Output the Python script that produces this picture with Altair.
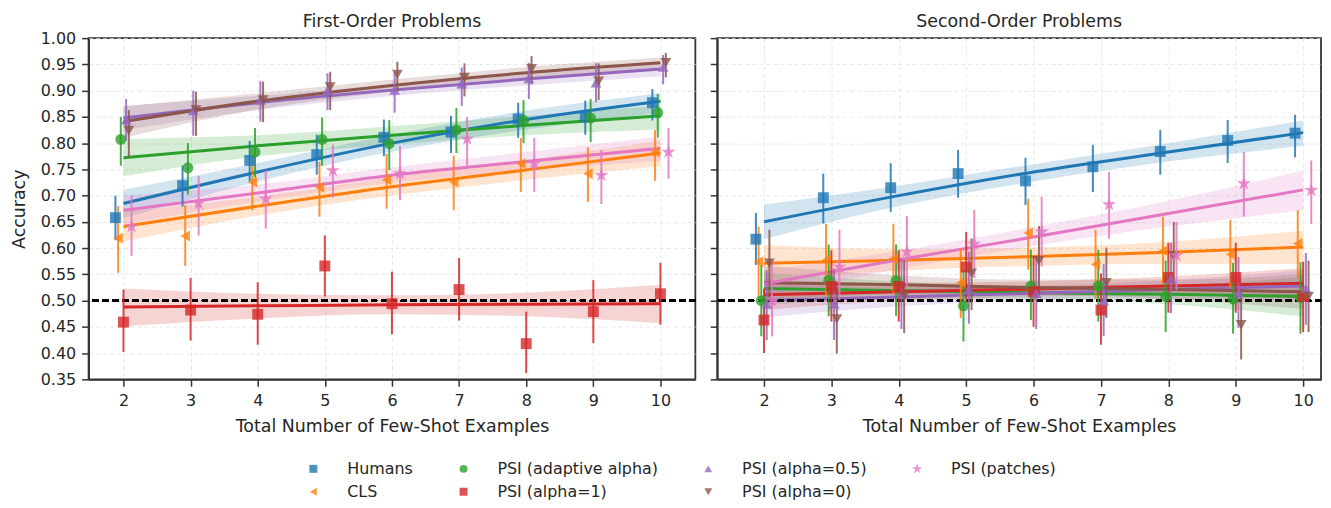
import altair as alt
import pandas as pd

# ---------------- data ----------------
SERIES = ["Humans", "CLS", "PSI (adaptive alpha)", "PSI (alpha=1)",
          "PSI (alpha=0.5)", "PSI (alpha=0)", "PSI (patches)"]
COLORS = ["#1f77b4", "#ff7f0e", "#2ca02c", "#d62728", "#9467bd", "#8c564b", "#e377c2"]
STAR = ("M0,-1.35L0.304,-0.417L1.284,-0.417L0.49,0.159L0.794,1.092L0,0.516"
        "L-0.794,1.092L-0.49,0.159L-1.284,-0.417L-0.304,-0.417Z")
SHAPES = ["square", "triangle-left", "circle", "square", "triangle-up", "triangle-down", STAR]
OFFSETS = [-0.12, -0.08, -0.04, 0.0, 0.04, 0.08, 0.12]

N_SHOTS = [2, 3, 4, 5, 6, 7, 8, 9, 10]
FIT_X = [2, 4, 6, 8, 10]
Y_TICKS = [0.35, 0.40, 0.45, 0.50, 0.55, 0.60, 0.65, 0.70, 0.75, 0.80, 0.85, 0.90, 0.95, 1.00]

# ---- First-order problems ----
first_acc = {
    "Humans":               [0.658, 0.719, 0.767, 0.778, 0.811, 0.821, 0.846, 0.850, 0.877],
    "CLS":                  [0.619, 0.623, 0.726, 0.716, 0.730, 0.726, 0.761, 0.742, 0.783],
    "PSI (adaptive alpha)": [0.807, 0.753, 0.783, 0.807, 0.799, 0.825, 0.843, 0.848, 0.858],
    "PSI (alpha=1)":        [0.459, 0.482, 0.474, 0.566, 0.494, 0.521, 0.418, 0.479, 0.513],
    "PSI (alpha=0.5)":      [0.844, 0.862, 0.882, 0.900, 0.901, 0.913, 0.923, 0.915, 0.945],
    "PSI (alpha=0)":        [0.824, 0.863, 0.882, 0.907, 0.931, 0.925, 0.942, 0.918, 0.953],
    "PSI (patches)":        [0.641, 0.685, 0.694, 0.748, 0.742, 0.808, 0.761, 0.739, 0.783],
}
first_lo = {
    "Humans":               [0.615, 0.679, 0.728, 0.740, 0.775, 0.781, 0.810, 0.816, 0.843],
    "CLS":                  [0.553, 0.566, 0.672, 0.660, 0.675, 0.672, 0.707, 0.688, 0.728],
    "PSI (adaptive alpha)": [0.757, 0.702, 0.735, 0.757, 0.749, 0.781, 0.800, 0.802, 0.811],
    "PSI (alpha=1)":        [0.402, 0.424, 0.416, 0.508, 0.436, 0.462, 0.362, 0.419, 0.454],
    "PSI (alpha=0.5)":      [0.805, 0.814, 0.841, 0.863, 0.858, 0.871, 0.884, 0.878, 0.912],
    "PSI (alpha=0)":        [0.773, 0.814, 0.840, 0.863, 0.898, 0.889, 0.912, 0.882, 0.925],
    "PSI (patches)":        [0.585, 0.624, 0.637, 0.696, 0.691, 0.754, 0.707, 0.684, 0.732],
}
first_hi = {
    "Humans":               [0.700, 0.757, 0.804, 0.816, 0.845, 0.852, 0.877, 0.881, 0.903],
    "CLS":                  [0.680, 0.682, 0.778, 0.764, 0.780, 0.776, 0.810, 0.792, 0.825],
    "PSI (adaptive alpha)": [0.850, 0.800, 0.829, 0.849, 0.844, 0.867, 0.882, 0.884, 0.894],
    "PSI (alpha=1)":        [0.521, 0.543, 0.535, 0.624, 0.555, 0.581, 0.479, 0.539, 0.572],
    "PSI (alpha=0.5)":      [0.884, 0.900, 0.918, 0.933, 0.936, 0.944, 0.953, 0.952, 0.968],
    "PSI (alpha=0)":        [0.863, 0.898, 0.917, 0.936, 0.955, 0.952, 0.966, 0.952, 0.972],
    "PSI (patches)":        [0.700, 0.737, 0.748, 0.797, 0.795, 0.850, 0.810, 0.787, 0.829],
}
first_fit = {
    "Humans":               [0.685, 0.745, 0.800, 0.845, 0.880],
    "CLS":                  [0.641, 0.680, 0.717, 0.749, 0.781],
    "PSI (adaptive alpha)": [0.772, 0.795, 0.815, 0.834, 0.852],
    "PSI (alpha=1)":        [0.488, 0.490, 0.492, 0.493, 0.494],
    "PSI (alpha=0.5)":      [0.848, 0.877, 0.901, 0.922, 0.941],
    "PSI (alpha=0)":        [0.841, 0.880, 0.910, 0.934, 0.953],
    "PSI (patches)":        [0.672, 0.705, 0.739, 0.765, 0.790],
}
first_band_lo = {
    "Humans":               [0.657, 0.727, 0.784, 0.826, 0.858],
    "CLS":                  [0.612, 0.662, 0.700, 0.730, 0.756],
    "PSI (adaptive alpha)": [0.737, 0.775, 0.797, 0.815, 0.826],
    "PSI (alpha=1)":        [0.451, 0.466, 0.474, 0.470, 0.457],
    "PSI (alpha=0.5)":      [0.824, 0.863, 0.890, 0.910, 0.927],
    "PSI (alpha=0)":        [0.810, 0.864, 0.898, 0.922, 0.940],
    "PSI (patches)":        [0.645, 0.689, 0.724, 0.748, 0.766],
}
first_band_hi = {
    "Humans":               [0.711, 0.762, 0.816, 0.862, 0.895],
    "CLS":                  [0.670, 0.698, 0.735, 0.768, 0.805],
    "PSI (adaptive alpha)": [0.808, 0.815, 0.832, 0.852, 0.871],
    "PSI (alpha=1)":        [0.523, 0.513, 0.510, 0.515, 0.530],
    "PSI (alpha=0.5)":      [0.871, 0.890, 0.911, 0.933, 0.953],
    "PSI (alpha=0)":        [0.870, 0.895, 0.921, 0.945, 0.963],
    "PSI (patches)":        [0.700, 0.721, 0.754, 0.783, 0.812],
}

# ---- Second-order problems ----
second_acc = {
    "Humans":               [0.617, 0.696, 0.715, 0.742, 0.728, 0.755, 0.784, 0.805, 0.819],
    "CLS":                  [0.574, 0.577, 0.580, 0.534, 0.629, 0.569, 0.595, 0.588, 0.609],
    "PSI (adaptive alpha)": [0.500, 0.539, 0.538, 0.490, 0.528, 0.528, 0.508, 0.503, 0.506],
    "PSI (alpha=1)":        [0.463, 0.527, 0.527, 0.564, 0.517, 0.482, 0.544, 0.544, 0.508],
    "PSI (alpha=0.5)":      [0.494, 0.494, 0.513, 0.521, 0.514, 0.500, 0.542, 0.515, 0.523],
    "PSI (alpha=0)":        [0.571, 0.465, 0.509, 0.552, 0.576, 0.534, 0.585, 0.454, 0.508],
    "PSI (patches)":        [0.500, 0.564, 0.593, 0.608, 0.631, 0.683, 0.586, 0.723, 0.710],
}
second_lo = {
    "Humans":               [0.568, 0.647, 0.669, 0.696, 0.682, 0.707, 0.740, 0.762, 0.773],
    "CLS":                  [0.505, 0.508, 0.512, 0.467, 0.559, 0.504, 0.530, 0.523, 0.542],
    "PSI (adaptive alpha)": [0.432, 0.470, 0.471, 0.422, 0.463, 0.460, 0.440, 0.437, 0.437],
    "PSI (alpha=1)":        [0.400, 0.460, 0.460, 0.495, 0.450, 0.416, 0.477, 0.477, 0.440],
    "PSI (alpha=0.5)":      [0.425, 0.425, 0.446, 0.456, 0.446, 0.432, 0.476, 0.448, 0.454],
    "PSI (alpha=0)":        [0.504, 0.399, 0.438, 0.482, 0.511, 0.467, 0.520, 0.388, 0.440],
    "PSI (patches)":        [0.432, 0.500, 0.527, 0.543, 0.565, 0.618, 0.520, 0.660, 0.646],
}
second_hi = {
    "Humans":               [0.667, 0.742, 0.762, 0.787, 0.772, 0.797, 0.825, 0.844, 0.854],
    "CLS":                  [0.641, 0.646, 0.646, 0.600, 0.694, 0.635, 0.660, 0.654, 0.672],
    "PSI (adaptive alpha)": [0.568, 0.607, 0.607, 0.558, 0.597, 0.597, 0.576, 0.572, 0.573],
    "PSI (alpha=1)":        [0.523, 0.596, 0.596, 0.631, 0.585, 0.552, 0.610, 0.610, 0.574],
    "PSI (alpha=0.5)":      [0.558, 0.561, 0.580, 0.593, 0.583, 0.570, 0.610, 0.583, 0.591],
    "PSI (alpha=0)":        [0.635, 0.533, 0.576, 0.618, 0.642, 0.601, 0.650, 0.521, 0.576],
    "PSI (patches)":        [0.574, 0.635, 0.661, 0.673, 0.698, 0.745, 0.650, 0.783, 0.767],
}
second_fit = {
    "Humans":               [0.650, 0.700, 0.745, 0.783, 0.820],
    "CLS":                  [0.571, 0.577, 0.584, 0.592, 0.602],
    "PSI (adaptive alpha)": [0.523, 0.519, 0.515, 0.512, 0.508],
    "PSI (alpha=1)":        [0.511, 0.517, 0.522, 0.528, 0.533],
    "PSI (alpha=0.5)":      [0.500, 0.507, 0.514, 0.521, 0.528],
    "PSI (alpha=0)":        [0.534, 0.530, 0.525, 0.521, 0.517],
    "PSI (patches)":        [0.532, 0.578, 0.621, 0.666, 0.711],
}
second_band_lo = {
    "Humans":               [0.617, 0.680, 0.727, 0.765, 0.795],
    "CLS":                  [0.538, 0.557, 0.566, 0.570, 0.570],
    "PSI (adaptive alpha)": [0.492, 0.502, 0.503, 0.493, 0.470],
    "PSI (alpha=1)":        [0.482, 0.500, 0.508, 0.510, 0.503],
    "PSI (alpha=0.5)":      [0.468, 0.489, 0.500, 0.503, 0.497],
    "PSI (alpha=0)":        [0.500, 0.512, 0.511, 0.503, 0.484],
    "PSI (patches)":        [0.506, 0.560, 0.604, 0.641, 0.672],
}
second_band_hi = {
    "Humans":               [0.683, 0.719, 0.760, 0.800, 0.843],
    "CLS":                  [0.606, 0.598, 0.601, 0.612, 0.633],
    "PSI (adaptive alpha)": [0.553, 0.536, 0.528, 0.530, 0.545],
    "PSI (alpha=1)":        [0.540, 0.534, 0.537, 0.546, 0.562],
    "PSI (alpha=0.5)":      [0.532, 0.525, 0.528, 0.539, 0.558],
    "PSI (alpha=0)":        [0.567, 0.548, 0.540, 0.540, 0.550],
    "PSI (patches)":        [0.558, 0.595, 0.640, 0.690, 0.748],
}

# ---------------- tables ----------------
def point_table(acc, lo, hi):
    rows = []
    for i, s in enumerate(SERIES):
        for j, n in enumerate(N_SHOTS):
            rows.append({"series": s, "order": i, "n": n + OFFSETS[i],
                         "acc": acc[s][j], "lo": lo[s][j], "hi": hi[s][j]})
    return pd.DataFrame(rows)


def fit_table(fit, blo, bhi):
    rows = []
    for i, s in enumerate(SERIES):
        for j, n in enumerate(FIT_X):
            rows.append({"series": s, "order": i, "n": n,
                         "fit": fit[s][j], "blo": blo[s][j], "bhi": bhi[s][j]})
    return pd.DataFrame(rows)


TXT = "#262626"
FONT = "DejaVu Sans"

legend = alt.Legend(orient="none", legendX=218, legendY=425, columns=4, direction="vertical",
                    title=None, labelFont=FONT, labelFontSize=16, labelColor=TXT,
                    labelLimit=400, symbolSize=64, symbolOpacity=0.8, symbolStrokeWidth=0,
                    labelOffset=26, columnPadding=42, rowPadding=7)

# legend scales: series order (vega fills the 4-column grid column by column)
color_leg = alt.Color("series:N", scale=alt.Scale(domain=SERIES, range=COLORS), legend=legend)
shape_leg = alt.Shape("series:N", scale=alt.Scale(domain=SERIES, range=SHAPES), legend=legend)
# fill / stroke scales use reversed domain order so their hidden legends stay separate
fill_nl = alt.Fill("series:N", scale=alt.Scale(domain=SERIES[::-1], range=COLORS[::-1]),
                   legend=None)
stroke_nl = alt.Stroke("series:N", scale=alt.Scale(domain=SERIES[::-1], range=COLORS[::-1]),
                       legend=None)

AX = dict(labelFont=FONT, labelFontSize=16, labelColor=TXT, labelOverlap=False,
          titleFont=FONT, titleFontSize=17.5, titleColor=TXT, titleFontWeight="normal",
          tickSize=7, tickWidth=1.5, tickColor="#333333",
          domainColor="#333333", domainWidth=1.8,
          gridColor="#e2e2e2", gridDash=[4, 3], gridWidth=0.8,
          labelPadding=6, titlePadding=12)


def panel(title, pts, fits, xdom, width, show_y, title_offset):
    x_ax = alt.Axis(values=N_SHOTS, format="d", tickCount=20,
                    title="Total Number of Few-Shot Examples", grid=True,
                    **{**AX, "titlePadding": 9})
    if show_y:
        y_ax = alt.Axis(values=Y_TICKS, format=".2f", tickCount=20, title="Accuracy",
                        grid=True, **AX)
    else:
        y_ax = alt.Axis(values=Y_TICKS, tickCount=20, labels=False, title=None,
                        grid=True, **AX)
    xs = alt.Scale(domain=xdom, nice=False, zero=False)
    ys = alt.Scale(domain=[0.35, 1.0], nice=False, zero=False)

    base_f = alt.Chart(fits)
    base_p = alt.Chart(pts)

    band = base_f.mark_area(opacity=0.2, interpolate="monotone").encode(
        x=alt.X("n:Q", scale=xs, axis=x_ax),
        y=alt.Y("blo:Q", scale=ys, axis=y_ax),
        y2="bhi:Q",
        fill=fill_nl,
    )
    line = base_f.mark_line(strokeWidth=3, interpolate="monotone").encode(
        x=alt.X("n:Q", scale=xs),
        y=alt.Y("fit:Q", scale=ys),
        stroke=stroke_nl,
        order="n:Q",
    )
    ref = alt.Chart(pts).mark_rule(color="black", strokeDash=[6, 4], strokeWidth=1.8).encode(
        y=alt.datum(0.5)
    )
    err = base_p.mark_rule(strokeWidth=2, opacity=0.85).encode(
        x=alt.X("n:Q", scale=xs),
        y=alt.Y("lo:Q", scale=ys),
        y2="hi:Q",
        stroke=stroke_nl,
    )
    dots = base_p.mark_point(filled=True, size=120, opacity=0.8, strokeWidth=0).encode(
        x=alt.X("n:Q", scale=xs),
        y=alt.Y("acc:Q", scale=ys),
        color=color_leg,
        shape=shape_leg,
    )
    return alt.layer(band, line, ref, err, dots).properties(
        width=width, height=343,
        title=alt.TitleParams(title, anchor="middle", fontSize=17.5, font=FONT,
                              fontWeight="normal", color=TXT, offset=title_offset),
    )


left = panel("First-Order Problems",
             point_table(first_acc, first_lo, first_hi),
             fit_table(first_fit, first_band_lo, first_band_hi),
             [1.48, 10.52], 610, True, 0)
right = panel("Second-Order Problems",
              point_table(second_acc, second_lo, second_hi),
              fit_table(second_fit, second_band_lo, second_band_hi),
              [1.306, 10.265], 607, False, 7)

chart = alt.hconcat(left, right, spacing=11).properties(
    padding={"left": 1, "top": 2, "right": 0, "bottom": 0}
).configure_view(stroke="#333333", strokeWidth=1.8)

chart.save("out.html", embed_options={"renderer": "svg", "actions": False})
